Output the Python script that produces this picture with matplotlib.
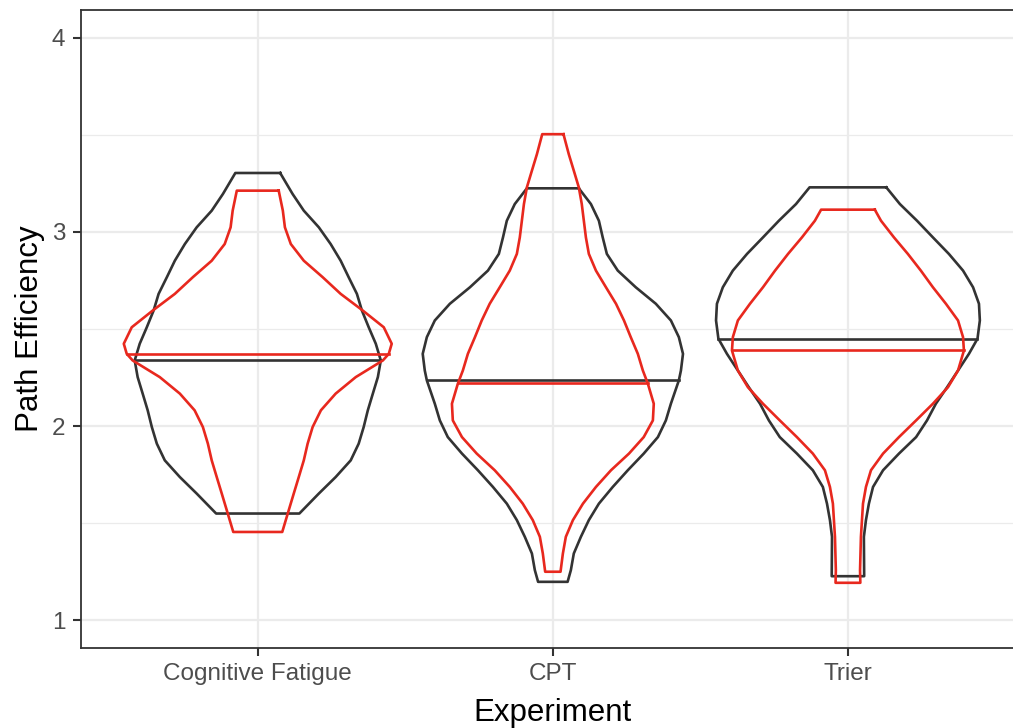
import numpy as np
import matplotlib
matplotlib.use("Agg")
import matplotlib.pyplot as plt

plt.rcParams['font.family'] = ['Liberation Sans', 'DejaVu Sans']

# Experiments on the x axis
experiments = ["Cognitive Fatigue", "CPT", "Trier"]

# Violin outlines: y levels and half-widths (x units)
# Cognitive Fatigue
cf_black_y = [3.304, 3.196, 3.110, 3.024, 2.938, 2.852, 2.767, 2.681, 2.595, 2.509, 2.424,
              2.338, 2.252, 2.167, 2.081, 1.995, 1.909, 1.823, 1.737, 1.652, 1.549]
cf_black_w = [0.076, 0.118, 0.156, 0.207, 0.247, 0.281, 0.308, 0.336, 0.353, 0.376, 0.400,
              0.417, 0.407, 0.390, 0.373, 0.359, 0.342, 0.315, 0.264, 0.207, 0.141]
cf_red_y = [3.213, 3.110, 3.024, 2.938, 2.852, 2.767, 2.681, 2.595, 2.509, 2.424, 2.372,
            2.338, 2.252, 2.167, 2.081, 1.995, 1.909, 1.823, 1.737, 1.652, 1.566, 1.454]
cf_red_w = [0.071, 0.085, 0.092, 0.112, 0.156, 0.220, 0.281, 0.356, 0.427, 0.454, 0.444,
            0.424, 0.332, 0.264, 0.214, 0.186, 0.169, 0.156, 0.139, 0.122, 0.105, 0.083]

# CPT
cpt_black_y = [3.225, 3.144, 3.058, 2.972, 2.887, 2.801, 2.715, 2.630, 2.544, 2.458, 2.372,
               2.286, 2.235, 2.115, 2.029, 1.943, 1.858, 1.772, 1.686, 1.600, 1.515, 1.429,
               1.343, 1.257, 1.197]
cpt_black_w = [0.088, 0.129, 0.156, 0.169, 0.183, 0.220, 0.281, 0.349, 0.400, 0.427, 0.441,
               0.434, 0.427, 0.400, 0.383, 0.356, 0.308, 0.254, 0.203, 0.156, 0.122, 0.095,
               0.071, 0.061, 0.050]
cpt_red_y = [3.504, 3.401, 3.316, 3.230, 3.144, 3.058, 2.972, 2.887, 2.801, 2.715, 2.630,
             2.544, 2.458, 2.372, 2.286, 2.218, 2.115, 2.029, 1.943, 1.858, 1.772, 1.686,
             1.600, 1.515, 1.429, 1.343, 1.249]
cpt_red_w = [0.036, 0.054, 0.071, 0.088, 0.098, 0.105, 0.112, 0.122, 0.146, 0.180, 0.214,
             0.241, 0.264, 0.288, 0.305, 0.322, 0.342, 0.339, 0.308, 0.258, 0.197, 0.146,
             0.102, 0.068, 0.044, 0.034, 0.026]

# Trier
tr_black_y = [3.230, 3.144, 3.058, 2.972, 2.887, 2.801, 2.715, 2.630, 2.544, 2.450, 2.372,
              2.286, 2.200, 2.115, 2.029, 1.943, 1.858, 1.772, 1.686, 1.600, 1.515, 1.429,
              1.226]
tr_black_w = [0.130, 0.176, 0.234, 0.288, 0.342, 0.390, 0.424, 0.444, 0.447, 0.439, 0.410,
              0.373, 0.336, 0.298, 0.268, 0.231, 0.173, 0.119, 0.085, 0.071, 0.061, 0.054,
              0.055]
tr_red_y = [3.115, 3.058, 2.972, 2.887, 2.801, 2.715, 2.630, 2.544, 2.458, 2.389, 2.286,
            2.200, 2.115, 2.029, 1.943, 1.858, 1.772, 1.686, 1.600, 1.429, 1.257, 1.192]
tr_red_w = [0.091, 0.112, 0.156, 0.203, 0.247, 0.288, 0.332, 0.373, 0.390, 0.393, 0.373,
            0.339, 0.288, 0.231, 0.173, 0.119, 0.078, 0.061, 0.051, 0.044, 0.041, 0.042]

# medians (drawn across each violin)
black_medians = [2.341, 2.238, 2.450]
red_medians = [2.372, 2.220, 2.390]

BLACK = "#333333"
RED = "#E8281E"

black_profiles = [(cf_black_y, cf_black_w), (cpt_black_y, cpt_black_w), (tr_black_y, tr_black_w)]
red_profiles = [(cf_red_y, cf_red_w), (cpt_red_y, cpt_red_w), (tr_red_y, tr_red_w)]

fig = plt.figure(figsize=(10.13, 7.28), dpi=100)
ax = fig.add_axes([80.7 / 1013, 1 - 648 / 728, (1025 - 80.7) / 1013, (648 - 10) / 728])


def draw_violin(ax, pos, ys, ws, med, color):
    ys = np.asarray(ys)
    ws = np.asarray(ws)
    # outline: right side top->bottom, then left side bottom->top, closed
    xs = np.concatenate([pos + ws, pos - ws[::-1], [pos + ws[0]]])
    yy = np.concatenate([ys, ys[::-1], [ys[0]]])
    ax.plot(xs, yy, color=color, lw=1.9, solid_joinstyle='round', zorder=3)
    # median line spans the violin at that level
    mw = np.interp(med, ys[::-1], ws[::-1])
    ax.plot([pos - mw, pos + mw], [med, med], color=color, lw=1.9, zorder=3)


for i in range(len(experiments)):
    y, w = black_profiles[i]
    draw_violin(ax, i + 1, y, w, black_medians[i], BLACK)
for i in range(len(experiments)):
    y, w = red_profiles[i]
    draw_violin(ax, i + 1, y, w, red_medians[i], RED)

ax.set_xlim(0.4, 3.6)
ax.set_ylim(0.856, 4.144)
ax.set_xticks([1, 2, 3])
ax.set_xticklabels(experiments)
ax.set_yticks([1, 2, 3, 4])
ax.set_yticks([1.5, 2.5, 3.5], minor=True)

ax.grid(True, which='major', color='#EBEBEB', lw=1.6, zorder=0)
ax.grid(True, which='minor', axis='y', color='#EBEBEB', lw=0.9, zorder=0)
ax.set_axisbelow(True)

for s in ax.spines.values():
    s.set_color(BLACK)
    s.set_linewidth(1.3)

ax.tick_params(axis='both', which='major', length=6, width=1.5, color=BLACK,
               labelsize=17.5, labelcolor='#4D4D4D', pad=5)
ax.tick_params(axis='y', which='minor', length=0)

ax.set_xlabel("Experiment", fontsize=22.5, color='black', labelpad=9)
ax.set_ylabel("Path Efficiency", fontsize=22.5, color='black', labelpad=5)

fig.savefig("out.png", dpi=100)
